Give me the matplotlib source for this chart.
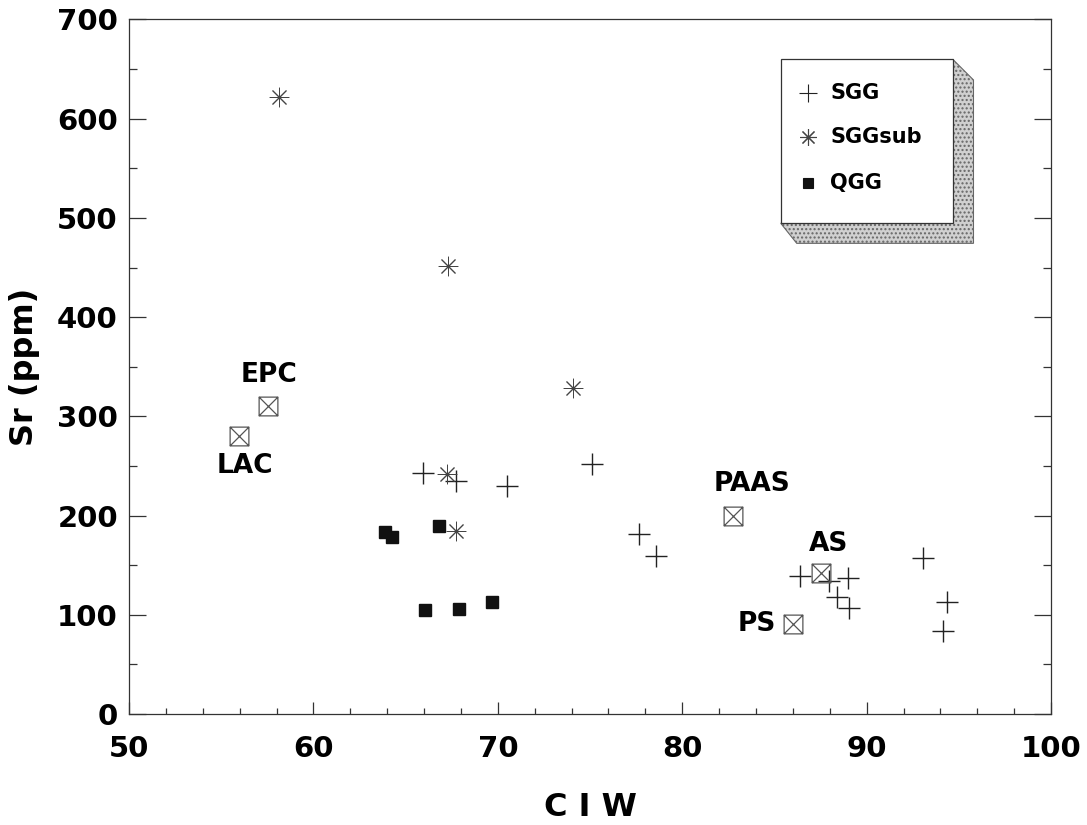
import numpy as np
import matplotlib
matplotlib.use('Agg')
import matplotlib.pyplot as plt
from matplotlib.path import Path
from matplotlib.patches import Polygon, Rectangle
from matplotlib.ticker import MultipleLocator

plt.rcParams['font.family'] = 'DejaVu Sans'
plt.rcParams['font.weight'] = 'bold'

# sample groups
sgg_ciw = [65.96, 67.73, 70.5, 75.13, 77.66, 78.56, 86.39, 88.97, 88.38, 89.06, 93.06, 94.36, 94.14, 87.98]
sgg_sr = [242.6, 235.2, 229.8, 252.3, 181.5, 159.3, 139.4, 137.4, 117.6, 107.2, 157.3, 112.6, 83.7, 134.0]

sggsub_ciw = [58.15, 67.32, 74.08, 67.23, 67.71]
sggsub_sr = [622.0, 451.6, 328.6, 241.6, 184.5]

qgg_ciw = [63.88, 64.28, 66.81, 66.03, 67.91, 69.70]
qgg_sr = [183.8, 178.7, 189.5, 104.8, 106.1, 112.6]

# reference compositions
ref_names = ['EPC', 'LAC', 'PAAS', 'AS', 'PS']
ref_ciw = [57.52, 55.97, 82.75, 87.51, 85.99]
ref_sr = [310.5, 280.5, 199.9, 141.8, 90.4]
# label offsets in points, alignment
ref_offsets = [(1, 22, 'center'), (4, -22, 'center'), (14, 23, 'center'), (6, 21, 'center'), (-12, 0, 'right')]

# square with both diagonals
box_x = Path([(-1, -1), (1, -1), (1, 1), (-1, 1), (-1, -1), (-1, -1), (1, 1), (-1, 1), (1, -1)],
             [Path.MOVETO, Path.LINETO, Path.LINETO, Path.LINETO, Path.CLOSEPOLY,
              Path.MOVETO, Path.LINETO, Path.MOVETO, Path.LINETO])
star = (8, 2, 0)

fig = plt.figure(figsize=(10.87, 8.25), dpi=100)
ax = fig.add_axes([0.1187, 0.1345, 0.8482, 0.8419])

ax.plot(sgg_ciw, sgg_sr, ls='none', marker='+', ms=16, mew=1.0, color='#222222')
ax.plot(sggsub_ciw, sggsub_sr, ls='none', marker=star, ms=14, mew=0.7, color='#444444')
ax.plot(qgg_ciw, qgg_sr, ls='none', marker='s', ms=8.5, color='#111111')
ax.plot(ref_ciw, ref_sr, ls='none', marker=box_x, ms=13.5, mew=0.9, mfc='none', color='#555555')

for name, x, y, (dx, dy, ha) in zip(ref_names, ref_ciw, ref_sr, ref_offsets):
    ax.annotate(name, (x, y), xytext=(dx, dy), textcoords='offset points',
                ha=ha, va='center', fontsize=19, fontweight='bold')

ax.set_xlim(50, 100)
ax.set_ylim(0, 700)
ax.xaxis.set_major_locator(MultipleLocator(10))
ax.xaxis.set_minor_locator(MultipleLocator(2))
ax.yaxis.set_major_locator(MultipleLocator(100))
ax.yaxis.set_minor_locator(MultipleLocator(50))
ax.tick_params(axis='both', which='both', direction='in', color='#333333', width=0.9)
ax.tick_params(axis='y', which='both', left=True, right=True)
ax.tick_params(axis='y', which='major', length=12, pad=8, labelsize=21)
ax.tick_params(axis='y', which='minor', length=6)
ax.tick_params(axis='x', which='major', length=9, pad=15, labelsize=21)
ax.tick_params(axis='x', which='minor', length=4.5)
for lab in ax.get_xticklabels() + ax.get_yticklabels():
    lab.set_fontweight('bold')
for sp in ax.spines.values():
    sp.set_linewidth(0.9)
    sp.set_color('#333333')

ax.set_xlabel('C I W', fontsize=23, fontweight='bold', labelpad=21)
ax.set_ylabel('Sr (ppm)', fontsize=23, fontweight='bold', labelpad=12)

# legend panel with a bevelled shadow
shadow = Polygon([(0.8934, 0.9427), (0.9159, 0.9129), (0.9159, 0.6777), (0.7242, 0.6777), (0.7068, 0.7066),
                  (0.8934, 0.7066)], closed=True, transform=ax.transAxes, facecolor='#d0d0d0',
                 edgecolor='#666666', hatch='....', lw=0.8, zorder=4)
ax.add_patch(shadow)
ax.add_patch(Rectangle((0.7068, 0.7066), 0.1866, 0.2361, transform=ax.transAxes,
                       facecolor='white', edgecolor='#333333', lw=0.9, zorder=5))
leg_y = [0.8937, 0.8313, 0.7642]
leg_items = [('SGG', '+', 13, '#222222', 'none'),
             ('SGGsub', star, 12, '#444444', 'none'),
             ('QGG', 's', 7, '#111111', '#111111')]
for y, (lab, mk, ms, col, fc) in zip(leg_y, leg_items):
    ax.plot([0.7364], [y], transform=ax.transAxes, ls='none', marker=mk, ms=ms, mew=0.8,
            color=col, zorder=6, clip_on=False)
    ax.text(0.7603, y, lab, transform=ax.transAxes, ha='left', va='center',
            fontsize=15, fontweight='bold', zorder=6)

fig.savefig('out.png', dpi=100)
